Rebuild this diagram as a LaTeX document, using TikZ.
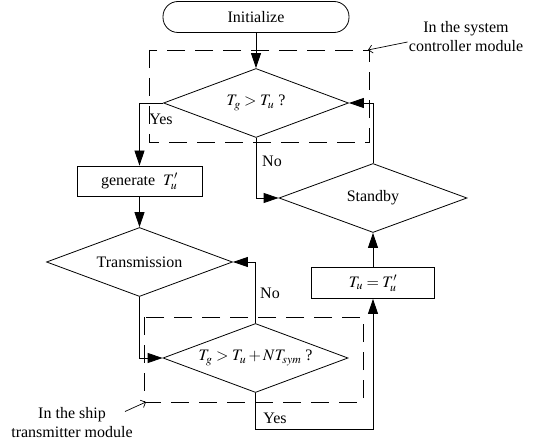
\documentclass[tikz,border=0pt]{standalone}
\usepackage{mathptmx}
\usepackage{fontspec}
\setmainfont{Liberation Serif}
\usetikzlibrary{arrows.meta,shapes.geometric,calc}
\begin{document}
\begin{tikzpicture}[x=1pt,y=-1pt,line width=0.8pt,
		every node/.style={font=\fontsize{16pt}{19pt}\selectfont},
		term/.style={draw,rectangle,rounded corners=15pt,minimum width=186pt,minimum height=31pt,inner sep=0pt},
		proc/.style={draw,rectangle,minimum width=125pt,minimum height=30pt,inner sep=0pt},
		dec/.style={draw,diamond,aspect=2.7,minimum width=185pt,minimum height=69pt,inner sep=0pt},
		arr/.style={-{Triangle[length=15pt,width=10pt]}},
		modbox/.style={dash pattern=on 18pt off 10pt},
		note/.style={align=center,inner sep=1pt},
		notearr/.style={line width=0.7pt,-{Straight Barb[length=4pt,width=8pt]}}]
		\useasboundingbox (0,0) rectangle (542,444);
		
		% flow
		\node[term] (init) at (256,17) {Initialize};
		\node[dec] (cmp) at (256,103) {$T_g > T_u$ ?};
		\node[proc] (gen) at (139.5,181) {generate\ \ $T'_u$};
		\node[dec,minimum width=186pt] (trans) at (139.5,262) {Transmission};
		\node[dec] (chk) at (255.5,358) {$T_g > T_u + NT_{sym}$ ?};
		\node[proc,minimum width=123pt,minimum height=31pt] (upd) at (373,283) {$T_u = T'_u$};
		\node[dec,minimum width=188pt] (stby) at (373,198) {Standby};
		
		\draw[arr] (init) -- (cmp);
		\draw[arr] (cmp.west) -| (gen.north);
		\draw[arr] (cmp.south) |- (stby.west);
		\draw[arr] (stby.north) |- (cmp.east);
		\draw[arr] (gen) -- (trans);
		\draw[arr] (trans.south) |- (chk.west);
		\draw[arr] (chk.north) |- (trans.east);
		\draw[arr] (chk.south) -- ++(0,36) -| (upd.south);
		\draw[arr] (upd) -- (stby);
		
		\node (yes1) at (161,119) {Yes};
		\node (no1) at (272,161) {No};
		\node (no2) at (270,293) {No};
		\node (yes2) at (275,418) {Yes};
		
		% modules
		\draw[modbox] (149,50) rectangle (369,142);
		\draw[modbox] (144,317) rectangle (363,402);
		\coordinate (sysc) at (368,50);
		\coordinate (shipc) at (146,402);
		\node[note] (sysnote) at (466,37) {In the system\\controller module};
		\node[note] (shipnote) at (72,423) {In the ship\\transmitter module};
		\draw[notearr] ([yshift=-5pt]sysnote.west) -- (sysc);
		\draw[notearr] ([xshift=-9pt,yshift=-5pt]shipnote.north east) -- (shipc);
\end{tikzpicture}
\end{document}
